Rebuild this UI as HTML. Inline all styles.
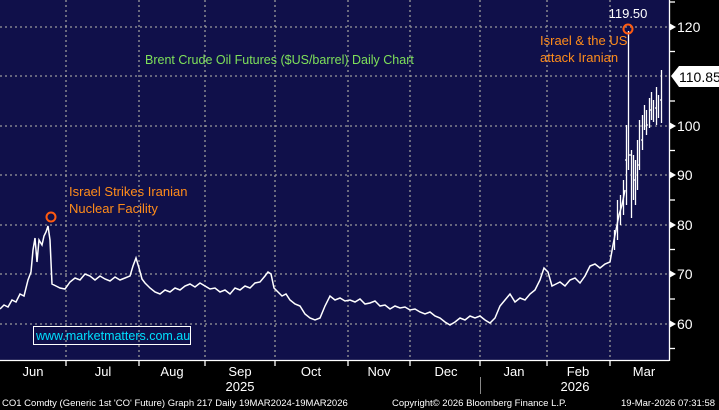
<!DOCTYPE html><html><head><style>body{margin:0;background:#000;width:719px;height:410px;overflow:hidden}svg{display:block;font-family:"Liberation Sans",sans-serif}</style></head><body>
<svg width="719" height="410" xmlns="http://www.w3.org/2000/svg">
<rect x="0" y="0" width="719" height="410" fill="#000"/>
<rect x="0" y="0" width="669" height="360" fill="#10104a"/>
<g stroke="#9a9a9a" stroke-dasharray="2,3" stroke-width="1.3">
<line x1="0" x2="669" y1="27" y2="27"/><line x1="0" x2="669" y1="76" y2="76"/><line x1="0" x2="669" y1="126" y2="126"/><line x1="0" x2="669" y1="175" y2="175"/><line x1="0" x2="669" y1="225" y2="225"/><line x1="0" x2="669" y1="274" y2="274"/><line x1="0" x2="669" y1="324" y2="324"/>
<line x1="66" x2="66" y1="0" y2="360"/><line x1="139" x2="139" y1="0" y2="360"/><line x1="205" x2="205" y1="0" y2="360"/><line x1="275" x2="275" y1="0" y2="360"/><line x1="348" x2="348" y1="0" y2="360"/><line x1="410" x2="410" y1="0" y2="360"/><line x1="480" x2="480" y1="0" y2="360"/><line x1="547" x2="547" y1="0" y2="360"/><line x1="610" x2="610" y1="0" y2="360"/>
</g>
<g stroke="#fff" stroke-width="1.3">
<line x1="0" x2="669" y1="360.5" y2="360.5"/><line x1="669.5" x2="669.5" y1="0" y2="361"/>
</g>
<polyline fill="none" stroke="#fff" stroke-width="1.5" stroke-linejoin="miter" points="0,309 4,305 8,307 12,300 16,302 20,294 24,296 28,280 31,272 33,250 35,238 37,262 39,240 42,245 44,236 46,232 48,226 50,240 52,284 56,286 60,288 65,289 70,282 75,278 80,280 85,274 90,276 95,280 100,276 105,279 110,281 115,277 120,280 125,278 130,276 133,266 136,258 139,268 142,279 145,283 150,288 155,292 160,294 165,290 170,292 175,288 180,290 185,286 190,284 195,287 200,283 205,286 210,289 215,288 220,292 225,290 230,294 235,288 240,290 245,286 250,288 255,283 260,282 265,276 268,272 271,274 274,288 278,292 282,296 286,294 290,300 295,304 300,306 305,314 310,318 315,320 320,318 325,306 330,296 335,300 340,298 345,301 350,300 355,302 360,299 365,304 370,303 375,301 380,306 385,305 390,309 395,306 400,308 405,307 410,310 415,309 420,312 425,314 430,312 435,316 440,318 445,322 450,325 455,322 460,318 465,320 470,316 475,318 480,316 485,320 490,323 495,318 500,306 505,300 510,294 515,302 520,298 525,300 530,294 535,290 540,280 544,268 548,272 552,286 556,284 560,282 565,286 570,280 575,278 580,283 585,276 590,266 595,264 600,268 605,264 610,262 613,245 616,230 619,215 622,205 625,190"/>
<g stroke="#fff" stroke-width="1.3">
<line x1="614.5" x2="614.5" y1="230" y2="250"/><line x1="617.5" x2="617.5" y1="200" y2="240"/><line x1="620.5" x2="620.5" y1="195" y2="225"/><line x1="623.5" x2="623.5" y1="180" y2="215"/><line x1="626.5" x2="626.5" y1="125" y2="205"/>
<line x1="628.5" x2="628.5" y1="31" y2="170"/><line x1="631.5" x2="631.5" y1="150" y2="218"/><line x1="633.5" x2="633.5" y1="155" y2="200"/><line x1="635.5" x2="635.5" y1="160" y2="205"/><line x1="637.5" x2="637.5" y1="140" y2="190"/><line x1="639.5" x2="639.5" y1="120" y2="170"/>
<line x1="642.5" x2="642.5" y1="115" y2="150"/><line x1="644.5" x2="644.5" y1="105" y2="130"/><line x1="646.5" x2="646.5" y1="110" y2="135"/><line x1="649.5" x2="649.5" y1="98" y2="128"/><line x1="651.5" x2="651.5" y1="92" y2="120"/><line x1="653.5" x2="653.5" y1="100" y2="122"/><line x1="656.5" x2="656.5" y1="87" y2="125"/><line x1="658.5" x2="658.5" y1="95" y2="118"/><line x1="661.5" x2="661.5" y1="70" y2="123"/>
<path d="M625 160H627M629 155H631M633 180H635M637 165H639M641 140H643M646 125H648M650 110H652M655 108H657M660 100H662"/>
</g>
<g stroke="#fff" stroke-width="1.3">
<line x1="669" x2="675" y1="2" y2="2"/><line x1="669" x2="675" y1="51.5" y2="51.5"/><line x1="669" x2="675" y1="101" y2="101"/><line x1="669" x2="675" y1="150.5" y2="150.5"/><line x1="669" x2="675" y1="200" y2="200"/><line x1="669" x2="675" y1="249.5" y2="249.5"/><line x1="669" x2="675" y1="299" y2="299"/><line x1="669" x2="675" y1="348.5" y2="348.5"/>
<line x1="66" x2="66" y1="360" y2="366"/><line x1="139" x2="139" y1="360" y2="366"/><line x1="205" x2="205" y1="360" y2="366"/><line x1="275" x2="275" y1="360" y2="366"/><line x1="348" x2="348" y1="360" y2="366"/><line x1="410" x2="410" y1="360" y2="366"/><line x1="480" x2="480" y1="360" y2="366"/><line x1="547" x2="547" y1="360" y2="366"/><line x1="610" x2="610" y1="360" y2="366"/>
</g>
<g fill="#fff">
<polygon points="669,23 676,27 669,31"/><polygon points="669,122 676,126 669,130"/><polygon points="669,171 676,175 669,179"/><polygon points="669,221 676,225 669,229"/><polygon points="669,270 676,274 669,278"/><polygon points="669,320 676,324 669,328"/>
</g>
<g fill="#fff" font-size="14">
<text x="677" y="32">120</text><text x="677" y="131">100</text><text x="677" y="180">90</text><text x="677" y="230">80</text><text x="677" y="279">70</text><text x="677" y="329">60</text>
</g>
<polygon points="671,76 679,66 719,66 719,87 679,87" fill="#fff"/>
<text x="679" y="82" font-size="14" fill="#000">110.85</text>
<g fill="#fff" font-size="13" text-anchor="middle">
<text x="33" y="376">Jun</text><text x="103" y="376">Jul</text><text x="172" y="376">Aug</text><text x="240" y="376">Sep</text><text x="311" y="376">Oct</text><text x="379" y="376">Nov</text><text x="446" y="376">Dec</text><text x="514" y="376">Jan</text><text x="578" y="376">Feb</text><text x="644" y="376">Mar</text>
<text x="240" y="391">2025</text><text x="575" y="391">2026</text>
</g>
<line x1="480.5" x2="480.5" y1="377" y2="394" stroke="#888"/>
<g fill="#fff" font-size="9.5"><text x="2" y="406">CO1 Comdty (Generic 1st 'CO' Future) Graph 217 Daily 19MAR2024-19MAR2026</text><text x="392" y="406">Copyright© 2026 Bloomberg Finance L.P.</text><text x="621" y="406">19-Mar-2026 07:31:58</text></g>
<rect x="33.5" y="326.5" width="157" height="18" fill="none" stroke="#fff" stroke-width="1"/>
<text x="36" y="340" font-size="12.5" fill="#00e0ff">www.marketmatters.com.au</text>
<text x="145" y="64" font-size="12.5" fill="#7ee05a">Brent Crude Oil Futures ($US/barrel) Daily Chart</text>
<g fill="#ff8c1a" font-size="13"><text x="69" y="196">Israel Strikes Iranian</text><text x="69" y="213">Nuclear Facility</text><text x="540" y="45">Israel &amp; the US</text><text x="540" y="62">attack Iranian</text></g>
<text x="628" y="18" font-size="13" fill="#fff" text-anchor="middle">119.50</text>
<circle cx="51" cy="217" r="4.5" fill="none" stroke="#ff5a10" stroke-width="2"/>
<circle cx="628" cy="29" r="4.5" fill="none" stroke="#ff5a10" stroke-width="2"/>
</svg></body></html>
